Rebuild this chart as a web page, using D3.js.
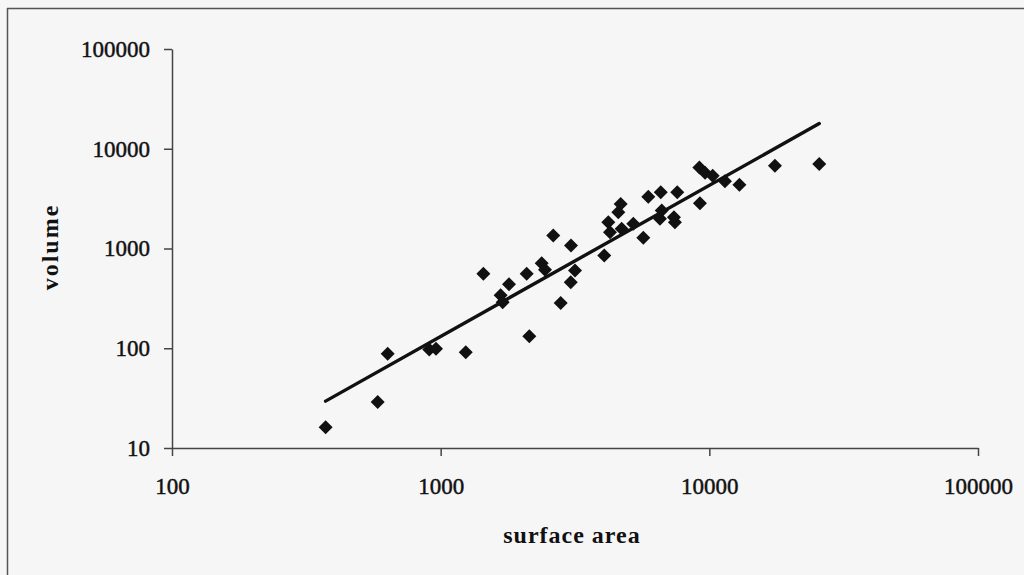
<!DOCTYPE html>
<html>
<head>
<meta charset="utf-8">
<script src="https://cdn.jsdelivr.net/npm/d3@7"></script>
<style>
html,body{margin:0;padding:0;background:#f6f6f6;}
svg{display:block;}
</style>
</head>
<body>
<svg id="chart" width="1024" height="575"></svg>
<script>
// ---- data ----
const surfaceArea = [373, 583, 635, 907, 961, 1240, 2138, 1442, 1796, 1672, 1702, 2090, 2377, 2445, 2625, 2797, 3049, 3162, 3056, 4064, 4207, 4269, 4717, 4584, 4677, 5212, 5679, 5926, 6593, 6652, 6549, 7384, 7445, 7598, 9226, 9180, 9640, 10290, 11430, 12940, 17550, 25650];
const volume      = [16.1, 29, 88, 97, 99, 91, 132, 558, 437, 339, 290, 558, 713, 612, 1349, 284, 460, 603, 1072, 851, 1832, 1456, 1574, 2307, 2799, 1766, 1279, 3311, 3656, 2399, 1982, 2056, 1832, 3656, 2839, 6501, 5754, 5370, 4710, 4365, 6761, 7031];
const trendX = [373, 25650];
const trendY = [29.5, 17900];
const xTicks = [100, 1000, 10000, 100000];
const yTicks = [10, 100, 1000, 10000, 100000];
const xTickLabels = ["100", "1000", "10000", "100000"];
const yTickLabels = ["10", "100", "1000", "10000", "100000"];
const xTitle = "surface area";
const yTitle = "volume";

(function () {
// ---- layout ----
const svg = d3.select("#chart");
const mLeft = 172, mRight = 978, mTop = 49, mBottom = 448;

// outer frame (only left and top edges visible)
svg.append("line").attr("x1", 7.5).attr("x2", 7.5).attr("y1", 8).attr("y2", 575)
  .attr("stroke", "#555").attr("stroke-width", 1.5);
svg.append("line").attr("x1", 7).attr("x2", 1024).attr("y1", 8.5).attr("y2", 8.5)
  .attr("stroke", "#555").attr("stroke-width", 1.5);

const x = d3.scaleLog().domain([100, 100000]).range([mLeft, mRight]);
const y = d3.scaleLog().domain([10, 100000]).range([mBottom, mTop]);

const fontFam = "'Liberation Serif','Times New Roman',serif";

const xAxis = d3.axisBottom(x).tickValues(xTicks)
  .tickFormat((d, i) => xTickLabels[i]).tickSizeInner(8).tickSizeOuter(0).tickPadding(22);
const yAxis = d3.axisLeft(y).tickValues(yTicks)
  .tickFormat((d, i) => yTickLabels[i]).tickSizeInner(8).tickSizeOuter(0).tickPadding(14);

const gx = svg.append("g").attr("transform", `translate(0,${mBottom})`).call(xAxis);
const gy = svg.append("g").attr("transform", `translate(${mLeft},0)`).call(yAxis);
[gx, gy].forEach(g => {
  g.select(".domain").attr("stroke", "#444").attr("stroke-width", 1.5);
  g.selectAll(".tick line").attr("stroke", "#444").attr("stroke-width", 1.5);
  g.selectAll(".tick text").attr("fill", "#111")
    .attr("stroke", "#111").attr("stroke-width", 0.45)
    .style("font-family", fontFam).style("font-size", "23px");
});

// trend line
const line = d3.line().x(d => x(d[0])).y(d => y(d[1]));
svg.append("path")
  .datum(trendX.map((v, i) => [v, trendY[i]]))
  .attr("d", line).attr("fill", "none").attr("stroke", "#111").attr("stroke-width", 3.4)
  .attr("stroke-linecap", "round");

// data points (diamonds)
const diamond = "M0,-7L7,0L0,7L-7,0Z";
svg.append("g").selectAll("path.pt")
  .data(surfaceArea.map((v, i) => [v, volume[i]]))
  .join("path").attr("class", "pt")
  .attr("d", diamond)
  .attr("transform", d => `translate(${x(d[0])},${y(d[1])})`)
  .attr("fill", "#111");

// axis titles
svg.append("text").text(xTitle)
  .attr("x", 572).attr("y", 543).attr("text-anchor", "middle")
  .style("font-family", fontFam).style("font-weight", "bold").style("font-size", "24px")
  .style("letter-spacing", "1px").attr("fill", "#111");
svg.append("text").text(yTitle)
  .attr("transform", "translate(58,247) rotate(-90)").attr("text-anchor", "middle")
  .style("font-family", fontFam).style("font-weight", "bold").style("font-size", "24px")
  .style("letter-spacing", "2px").attr("fill", "#111");
})();
</script>
</body>
</html>
